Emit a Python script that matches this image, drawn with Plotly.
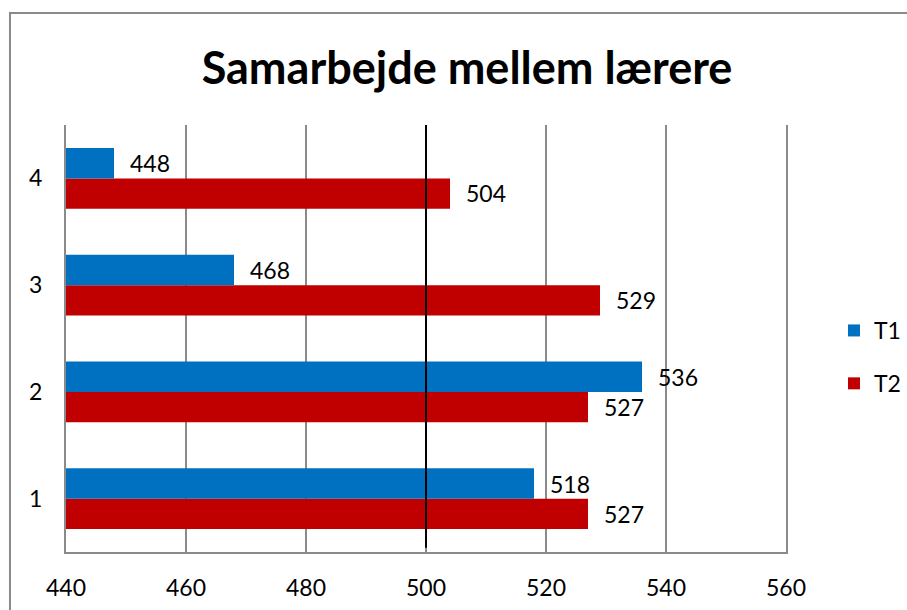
import plotly.graph_objects as go

# Survey scores per group, two measurement rounds
categories = ["1", "2", "3", "4"]
t1_values = [518, 536, 468, 448]
t2_values = [527, 527, 529, 504]
x_ticks = [440, 460, 480, 500, 520, 540, 560]
reference_value = 500

BLUE = "#0070C0"
RED = "#C00000"
FONT = "Lato"
W, H = 907, 610

fig = go.Figure()

# T2 is added first so it sits below T1 within each group
fig.add_trace(go.Bar(
    y=categories, x=t2_values, name="T2", orientation="h",
    marker=dict(color=RED, line=dict(width=0)),
    legendgroup="b", legendrank=2,
))
fig.add_trace(go.Bar(
    y=categories, x=t1_values, name="T1", orientation="h",
    marker=dict(color=BLUE, line=dict(width=0)),
    legendgroup="a", legendrank=1,
))

# Value labels just past the end of each bar (y given as category index)
for i, v in enumerate(t1_values):
    fig.add_annotation(x=v, y=i, text=str(v), showarrow=False,
                       xanchor="left", xshift=14, yshift=15,
                       font=dict(family=FONT, size=23, color="#000"))
for i, v in enumerate(t2_values):
    fig.add_annotation(x=v, y=i, text=str(v), showarrow=False,
                       xanchor="left", xshift=14, yshift=-15,
                       font=dict(family=FONT, size=23, color="#000"))

# Reference line
fig.add_shape(type="line", xref="x", yref="paper",
              x0=reference_value, x1=reference_value, y0=0.01, y1=1.0,
              line=dict(color="#000000", width=2), layer="above")

# Chart border
fig.add_shape(type="rect", xref="paper", yref="paper",
              x0=-0.0778, x1=1.5, y0=-0.5, y1=1.2623,
              line=dict(color="#8a8a8a", width=2), fillcolor="rgba(0,0,0,0)",
              layer="below")

fig.update_layout(
    width=W, height=H,
    margin=dict(l=66, r=121, t=125, b=58, autoexpand=False),
    paper_bgcolor="white", plot_bgcolor="white",
    barmode="group", bargap=0.43, bargroupgap=0,
    title=dict(text="<b>Samarbejde mellem lærere</b>",
               x=467 / W, xanchor="center",
               y=1 - 68 / H, yanchor="middle", yref="container",
               font=dict(family=FONT, size=45, color="#000")),
    xaxis=dict(range=[440, 560], tickvals=x_ticks, showgrid=True,
               gridcolor="#8a8a8a", gridwidth=1.5,
               showline=True, linecolor="#8a8a8a", linewidth=2,
               ticks="", zeroline=False, ticklabelstandoff=14,
               tickfont=dict(family=FONT, size=23, color="#000")),
    yaxis=dict(type="category", categoryorder="array", categoryarray=categories,
               showgrid=False, showline=True, mirror=True,
               linecolor="#8a8a8a", linewidth=2,
               ticks="", ticklabelstandoff=17,
               tickfont=dict(family=FONT, size=23, color="#000")),
    legend=dict(xref="container", yref="container",
                x=834 / W, y=1 - 357 / H, xanchor="left", yanchor="middle",
                traceorder="grouped", tracegroupgap=20,
                font=dict(family=FONT, size=23, color="#000"),
                bgcolor="rgba(0,0,0,0)"),
    showlegend=True,
)

fig.write_html("out.html")
